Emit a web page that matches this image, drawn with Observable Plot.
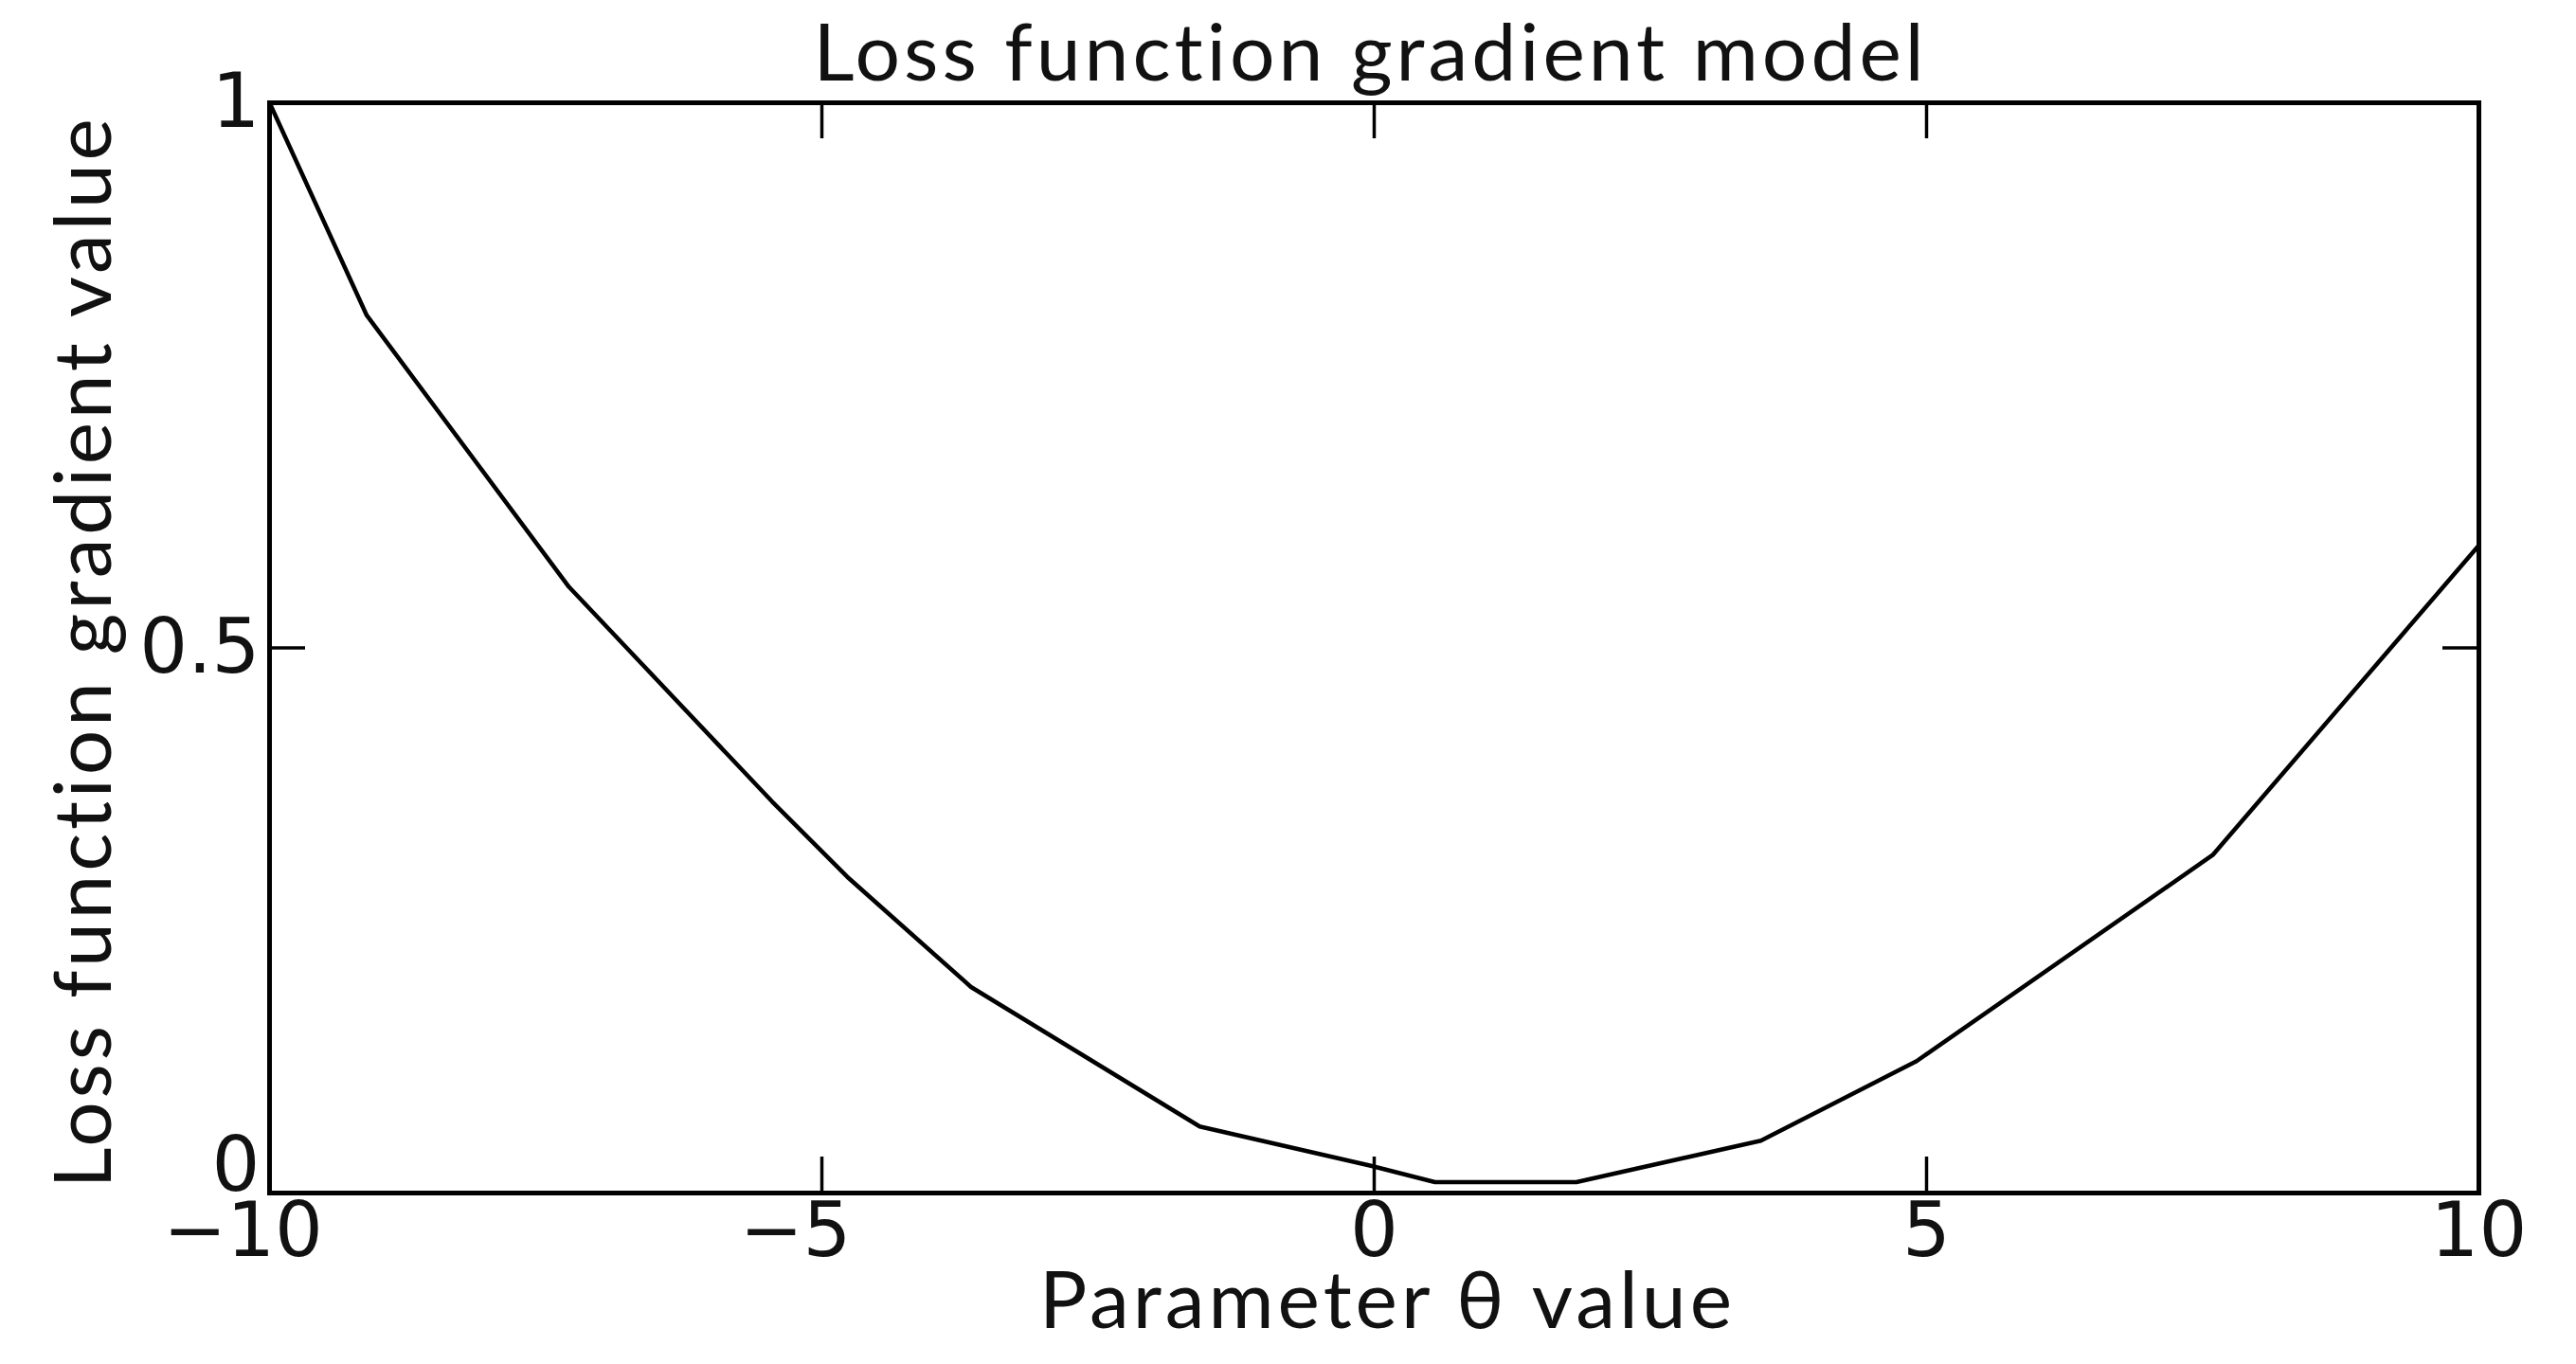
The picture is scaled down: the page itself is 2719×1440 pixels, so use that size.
<!DOCTYPE html>
<html><head><meta charset="utf-8">
<script src="https://cdn.jsdelivr.net/npm/d3@7"></script>
<script src="https://cdn.jsdelivr.net/npm/@observablehq/plot@0.6"></script>
<style>
html,body{margin:0;padding:0;background:#fff;overflow:hidden;}
</style></head><body><div id="chart"></div>
<script>
// ---- data ----
const thetaValues    = [-10, -9.12, -7.29, -5.45, -4.77, -3.65, -1.58, -0.03, 0.55, 1.83, 3.5, 4.91, 7.59, 10];
const gradientValues = [1.0, 0.805, 0.556, 0.359, 0.29, 0.189, 0.061, 0.025, 0.010, 0.010, 0.048, 0.121, 0.31, 0.594];
const xTicks = [-10, -5, 0, 5, 10];
const xTickLabels = ["−10", "−5", "0", "5", "10"];
const yTicks = [0, 0.5, 1];
const yTickLabels = ["0", "0.5", "1"];
const titleText = "Loss function gradient model";
const xLabel = "Parameter θ value";
const yLabel = "Loss function gradient value";

const data = thetaValues.map((t, i) => ({theta: t, value: gradientValues[i]}));
const xTickData = xTicks.map((v, i) => ({v, label: xTickLabels[i]}));
const yTickData = yTicks.map((v, i) => ({v, label: yTickLabels[i]}));

const W = 2719, H = 1440, mL = 284, mR = 103, mT = 108, mB = 181;
const innerW = W - mL - mR, innerH = H - mT - mB;
const tickLen = 38;
const tickFont = "DejaVu Sans";
const textFont = "Lato";

const chart = Plot.plot({
  width: W, height: H,
  marginLeft: mL, marginRight: mR, marginTop: mT, marginBottom: mB,
  x: {domain: [-10, 10], axis: null},
  y: {domain: [0, 1], axis: null},
  style: {background: "white", color: "black"},
  marks: [
    Plot.line(data, {x: "theta", y: "value", stroke: "black", strokeWidth: 4.5}),
    Plot.tickX(xTicks, {x: d => d, stroke: "black", strokeWidth: 3.5, insetTop: innerH - tickLen}),
    Plot.tickX(xTicks, {x: d => d, stroke: "black", strokeWidth: 3.5, insetBottom: innerH - tickLen}),
    Plot.tickY(yTicks, {y: d => d, stroke: "black", strokeWidth: 3.5, insetRight: innerW - tickLen}),
    Plot.tickY(yTicks, {y: d => d, stroke: "black", strokeWidth: 3.5, insetLeft: innerW - tickLen}),
    Plot.frame({stroke: "black", strokeWidth: 5}),
    // x tick labels (digits centred, minus hanging left)
    Plot.text(xTickData.filter(d => d.v >= 0), {x: "v", text: "label", frameAnchor: "bottom", lineAnchor: "top", dy: 10,
      fontSize: 80, fontFamily: tickFont, fill: "#111"}),
    Plot.text(xTickData.filter(d => d.v < 0), {x: "v", text: "label", frameAnchor: "bottom", lineAnchor: "top", dy: 10, dx: -28,
      fontSize: 80, fontFamily: tickFont, fill: "#111"}),
    // y tick labels
    Plot.text(yTickData.filter(d => d.v > 0), {y: "v", text: "label", frameAnchor: "left", textAnchor: "end", lineAnchor: "middle", dx: -10,
      fontSize: 80, fontFamily: tickFont, fill: "#111"}),
    Plot.text(yTickData.filter(d => d.v === 0), {y: "v", text: "label", frameAnchor: "left", textAnchor: "end", lineAnchor: "middle", dx: -10, dy: -28,
      fontSize: 80, fontFamily: tickFont, fill: "#111"}),
    // title
    Plot.text([titleText], {text: d => d, frameAnchor: "top", textAnchor: "middle", lineAnchor: "bottom", dy: -24, dx: -4,
      fontSize: 84, fontFamily: textFont, fill: "#111"}),
    // x label
    Plot.text([xLabel], {text: d => d, frameAnchor: "bottom", textAnchor: "middle", lineAnchor: "bottom", dy: 142, dx: 14,
      fontSize: 84, fontFamily: textFont, fill: "#111"}),
    // y label
    Plot.text([yLabel], {text: d => d, frameAnchor: "left", textAnchor: "middle", lineAnchor: "middle", rotate: -90, dx: -194, dy: 4,
      fontSize: 84, fontFamily: textFont, fill: "#111"})
  ]
});
// letter spacing to mimic the wide-set lettering of the reference
const spacing = new Map([[titleText, "4px"], [xLabel, "4px"], [yLabel, "3.7px"]]);
d3.select(chart).selectAll("text").each(function() {
  const s = spacing.get(this.textContent);
  if (s) this.style.letterSpacing = s;
});
document.getElementById("chart").appendChild(chart);
</script>
</body></html>
